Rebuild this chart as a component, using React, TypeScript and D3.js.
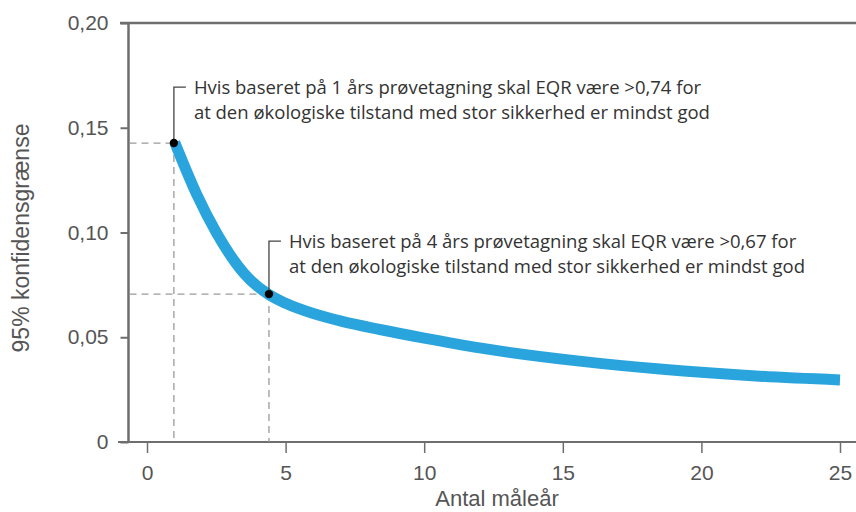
import React, { useEffect, useRef } from 'react'
import * as d3 from 'd3'

const W = 856
const H = 512

// curve (centre of the blue band)
const years = [1, 1.8, 2.5, 3.5, 4.4, 5, 6, 7, 8.4, 10, 12, 15.6, 18.5, 22.1, 25]
const limits = [0.143, 0.118, 0.1, 0.0805, 0.0703, 0.0662, 0.0613, 0.0577, 0.0537, 0.0496, 0.0449, 0.0386, 0.0348, 0.0314, 0.0296]

const xTicks = [0, 5, 10, 15, 20, 25]
const yTicks = [0, 0.05, 0.1, 0.15, 0.2]
const yTickLabels = ['0', '0,05', '0,10', '0,15', '0,20']

const markYears = [0.97, 4.4]
const markValues = [0.1427, 0.0706]
const markTexts = [
  ['Hvis baseret på 1 års prøvetagning skal EQR være >0,74 for', 'at den økologiske tilstand med stor sikkerhed er mindst god'],
  ['Hvis baseret på 4 års prøvetagning skal EQR være >0,67 for', 'at den økologiske tilstand med stor sikkerhed er mindst god'],
]
// how far above the point the callout bracket goes
const markRise = [56, 53]

export default function App() {
  const svgRef = useRef<SVGSVGElement>(null)

  useEffect(() => {
    if (!svgRef.current) return
    const svg = d3.select(svgRef.current)
    svg.selectAll('*').remove()

    const x = d3.scaleLinear().domain([0, 25]).range([147, 840])
    const y = d3.scaleLinear().domain([0, 0.2]).range([442, 23])
    const axisLeftX = 128.5
    const axisColor = '#6e6e6e'
    const textColor = '#555'

    // frame: left axis, top and bottom lines
    svg.append('line')
      .attr('x1', axisLeftX).attr('x2', axisLeftX)
      .attr('y1', y(0.2)).attr('y2', y(0))
      .attr('stroke', axisColor).attr('stroke-width', 2.5)
    svg.append('line')
      .attr('x1', 120).attr('x2', W)
      .attr('y1', y(0.2)).attr('y2', y(0.2))
      .attr('stroke', axisColor).attr('stroke-width', 2.5)
    svg.append('line')
      .attr('x1', 118).attr('x2', W)
      .attr('y1', y(0)).attr('y2', y(0))
      .attr('stroke', axisColor).attr('stroke-width', 2)

    // y axis
    const yAxis = svg.append('g')
      .attr('transform', `translate(${axisLeftX},0)`)
      .call(d3.axisLeft(y).tickValues(yTicks).tickSize(8).tickPadding(12)
        .tickFormat((_, i) => yTickLabels[i]))
    yAxis.select('.domain').remove()
    yAxis.selectAll('line').attr('stroke', axisColor).attr('stroke-width', 2)
    yAxis.selectAll('text')
      .attr('fill', textColor)
      .style('font-family', 'Liberation Sans, Arial, sans-serif')
      .style('font-size', '21px')

    // x axis
    const xAxis = svg.append('g')
      .attr('transform', `translate(0,${y(0)})`)
      .call(d3.axisBottom(x).tickValues(xTicks).tickSize(11).tickPadding(12))
    xAxis.select('.domain').remove()
    xAxis.selectAll('line').attr('stroke', axisColor).attr('stroke-width', 1.5)
    xAxis.selectAll('text')
      .attr('fill', textColor)
      .style('font-family', 'Liberation Sans, Arial, sans-serif')
      .style('font-size', '21px')

    // axis titles
    svg.append('text')
      .attr('x', 497).attr('y', 506)
      .attr('text-anchor', 'middle')
      .attr('fill', textColor)
      .style('font-family', 'Liberation Sans, Arial, sans-serif')
      .style('font-size', '22px')
      .text('Antal måleår')
    svg.append('text')
      .attr('transform', `translate(29,238) rotate(-90)`)
      .attr('text-anchor', 'middle')
      .attr('fill', textColor)
      .style('font-family', 'Liberation Sans, Arial, sans-serif')
      .style('font-size', '23px')
      .text('95% konfidensgrænse')

    // dashed guides
    markYears.forEach((yr, i) => {
      const px = x(yr)
      const py = y(markValues[i])
      svg.append('path')
        .attr('d', `M${axisLeftX + 1},${py}H${px}M${px},${py}V${y(0)}`)
        .attr('fill', 'none')
        .attr('stroke', '#9a9a9a')
        .attr('stroke-width', 1.3)
        .attr('stroke-dasharray', '7,5')
    })

    // blue band
    const line = d3.line<number>()
      .x((_, i) => x(years[i]))
      .y(d => y(d))
      .curve(d3.curveMonotoneX)
    svg.append('path')
      .attr('d', line(limits))
      .attr('fill', 'none')
      .attr('stroke', '#2aa4dc')
      .attr('stroke-width', 11)
      .attr('stroke-linecap', 'butt')

    // points + callouts
    markYears.forEach((yr, i) => {
      const px = x(yr)
      const py = y(markValues[i])
      const top = py - markRise[i]
      svg.append('path')
        .attr('d', `M${px},${py}V${top}H${px + 12}`)
        .attr('fill', 'none')
        .attr('stroke', '#444')
        .attr('stroke-width', 1.3)
      svg.append('circle')
        .attr('cx', px).attr('cy', py).attr('r', 4.2)
        .attr('fill', '#000')
      const t = svg.append('text')
        .attr('fill', '#333')
        .style('font-family', 'Open Sans, sans-serif')
        .style('font-size', '18.5px')
      markTexts[i].forEach((s, j) => {
        t.append('tspan')
          .attr('x', px + 20)
          .attr('y', top + 7 + j * 25)
          .text(s)
      })
    })
  }, [])

  return (
    <svg
      ref={svgRef}
      width={W}
      height={H}
      style={{ position: 'absolute', left: 0, top: 0, background: '#fff' }}
    />
  )
}
